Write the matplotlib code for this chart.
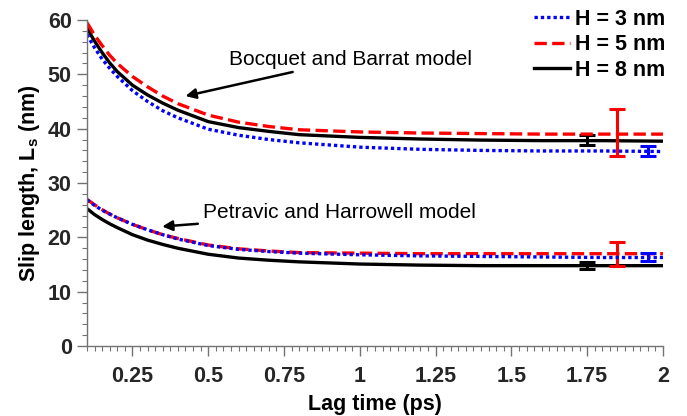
import matplotlib
matplotlib.use("Agg")
import matplotlib.pyplot as plt
from matplotlib.ticker import MultipleLocator

plt.rcParams['font.family'] = ['Liberation Sans', 'DejaVu Sans']
plt.rcParams['mathtext.fontset'] = 'custom'
plt.rcParams['mathtext.bf'] = 'Liberation Sans:bold'

# lag time (ps)
lag = [0.1, 0.125, 0.15, 0.175, 0.2, 0.25, 0.3, 0.35, 0.4, 0.5, 0.6, 0.7, 0.8,
       1.0, 1.2, 1.4, 1.6, 1.8, 2.0]

# Bocquet and Barrat model
bb_h3 = [57.3, 54.9, 52.8, 51.1, 49.6, 47.0, 45.0, 43.3, 42.0, 39.9, 38.8, 38.0, 37.4,
         36.6, 36.2, 36.0, 35.9, 35.9, 35.8]
bb_h5 = [59.5, 57.2, 55.3, 53.5, 52.0, 49.6, 47.7, 46.0, 44.6, 42.5, 41.2, 40.4, 39.8,
         39.4, 39.2, 39.1, 39.0, 39.0, 39.0]
bb_h8 = [58.5, 56.1, 54.0, 52.1, 50.5, 48.0, 46.2, 44.7, 43.4, 41.3, 40.2, 39.5, 38.9,
         38.4, 38.1, 37.9, 37.8, 37.8, 37.7]

# Petravic and Harrowell model
ph_h3 = [26.9, 25.9, 25.0, 24.3, 23.6, 22.4, 21.4, 20.5, 19.7, 18.5, 17.8, 17.4, 17.1,
         16.8, 16.6, 16.5, 16.4, 16.3, 16.3]
ph_h5 = [27.0, 26.0, 25.1, 24.3, 23.6, 22.4, 21.4, 20.5, 19.8, 18.6, 17.9, 17.5, 17.2,
         17.1, 17.0, 17.0, 17.0, 17.0, 17.0]
ph_h8 = [25.3, 24.2, 23.3, 22.5, 21.8, 20.5, 19.5, 18.7, 18.0, 16.9, 16.2, 15.8, 15.5,
         15.1, 14.9, 14.8, 14.8, 14.8, 14.8]

# error bars (x, mean, half-width)
err_x = [1.95, 1.85, 1.75]  # H = 3, 5, 8 nm
bb_mean = [35.9, 39.3, 37.9]
bb_err = [0.85, 4.3, 0.9]
ph_mean = [16.4, 17.0, 14.8]
ph_err = [0.7, 2.2, 0.6]

colors = ['blue', 'red', 'black']
styles = [(0, (1, 0.9)), (0, (3.7, 1.6)), '-']
labels = ['H = 3 nm', 'H = 5 nm', 'H = 8 nm']

fig = plt.figure(figsize=(6.87, 4.16), dpi=100)
ax = fig.add_axes([0.1266, 0.168, 0.8384, 0.784])

handles = [None] * 3
for i in [2, 1, 0]:
    bb = [bb_h3, bb_h5, bb_h8][i]
    ph = [ph_h3, ph_h5, ph_h8][i]
    h, = ax.plot(lag, bb, color=colors[i], ls=styles[i], lw=2.4, label=labels[i])
    ax.plot(lag, ph, color=colors[i], ls=styles[i], lw=2.4)
    handles[i] = h
    ax.errorbar([err_x[i]] * 2, [bb_mean[i], ph_mean[i]], yerr=[bb_err[i], ph_err[i]],
                fmt='none', ecolor=colors[i], elinewidth=2.2, capsize=5.5, capthick=2.2)

ax.annotate('Bocquet and Barrat model', xy=(0.425, 46.0), xytext=(0.567, 52.8),
            fontsize=15, va='center', ha='left',
            arrowprops=dict(arrowstyle='-|>', color='black', lw=1.8, mutation_scale=15,
                            shrinkA=2, shrinkB=0))
ax.annotate('Petravic and Harrowell model', xy=(0.348, 22.0), xytext=(0.484, 24.5),
            fontsize=15, va='center', ha='left',
            arrowprops=dict(arrowstyle='-|>', color='black', lw=1.8, mutation_scale=15,
                            shrinkA=2, shrinkB=0))

ax.set_xlim(0.1, 2)
ax.set_ylim(0, 60)
ax.set_xticks([0.25, 0.5, 0.75, 1, 1.25, 1.5, 1.75, 2])
ax.set_xticklabels(['0.25', '0.5', '0.75', '1', '1.25', '1.5', '1.75', '2'])
ax.xaxis.set_minor_locator(MultipleLocator(0.025))
ax.yaxis.set_major_locator(MultipleLocator(10))
ax.yaxis.set_minor_locator(MultipleLocator(2))

for s in ['top', 'right']:
    ax.spines[s].set_visible(False)
for s in ['left', 'bottom']:
    ax.spines[s].set_color('0.45')
    ax.spines[s].set_linewidth(1.0)
ax.tick_params(which='major', direction='out', length=7, width=1, color='0.45',
               labelsize=15.5)
ax.tick_params(axis='x', which='major', pad=7)
ax.tick_params(axis='y', which='major', pad=4)
ax.tick_params(which='minor', direction='out', length=3.5, width=0.8, color='0.45')
for t in ax.get_xticklabels() + ax.get_yticklabels():
    t.set_fontweight('bold')
    t.set_color('0.15')

ax.set_xlabel('Lag time (ps)', fontsize=15.5, fontweight='bold', labelpad=5)
ax.set_ylabel(r'Slip length, L$_\mathbf{s}$ (nm)', fontsize=15.5, fontweight='bold', labelpad=4)

ax.legend(handles=handles, loc='upper right', bbox_to_anchor=(1.0035, 1.035), frameon=False,
          prop={'weight': 'bold', 'size': 15.5}, handlelength=1.7, handletextpad=0.2,
          labelspacing=0.22, borderaxespad=0, borderpad=0)

fig.savefig('out.png', dpi=100)
